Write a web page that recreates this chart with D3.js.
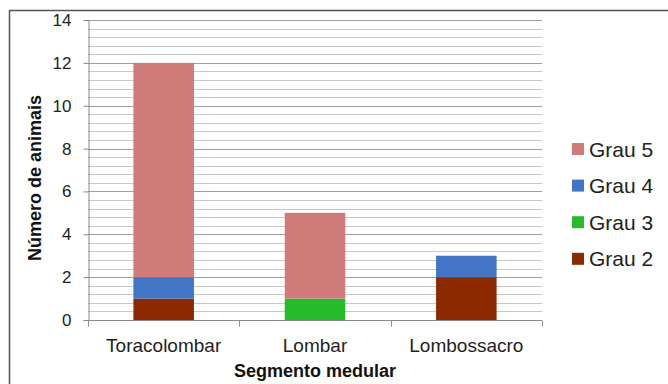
<!DOCTYPE html>
<html>
<head>
<meta charset="utf-8">
<script src="https://cdn.jsdelivr.net/npm/d3@7"></script>
<style>
  html, body { margin: 0; padding: 0; background: #fff; }
  svg { display: block; font-family: "Liberation Sans", Arial, sans-serif; }
</style>
</head>
<body>
<svg id="chart" width="668" height="384"></svg>
<script>
// Spinal segments and number of animals per injury grade
const categories = ["Toracolombar", "Lombar", "Lombossacro"];
const grades = ["Grau 2", "Grau 3", "Grau 4", "Grau 5"];
const grau2 = [1, 0, 2];
const grau3 = [0, 1, 0];
const grau4 = [1, 0, 1];
const grau5 = [10, 4, 0];
const yTicks = [0, 2, 4, 6, 8, 10, 12, 14];
const colors = { "Grau 2": "#8c2a02", "Grau 3": "#25bb2a", "Grau 4": "#4275c6", "Grau 5": "#cf7b79" };

const rows = categories.map((c, i) => ({
  cat: c, "Grau 2": grau2[i], "Grau 3": grau3[i], "Grau 4": grau4[i], "Grau 5": grau5[i]
}));

const svg = d3.select("#chart");
const plot = { left: 88, right: 542, top: 20, bottom: 320 };

const x = d3.scaleBand().domain(categories).range([plot.left, plot.right]).padding(0);
const y = d3.scaleLinear().domain([0, 14]).range([plot.bottom, plot.top]);

// outer frame (top and left edges)
svg.append("path")
  .attr("d", `M9.5,384 V10.5 H668`)
  .attr("fill", "none").attr("stroke", "#555").attr("stroke-width", 1.5);

// minor grid every 0.4, major every 2
const minor = d3.range(0, 14.001, 0.4).filter(v => Math.abs(v / 2 - Math.round(v / 2)) > 1e-6);
svg.append("g").selectAll("line").data(minor).join("line")
  .attr("x1", plot.left).attr("x2", plot.right)
  .attr("y1", d => Math.round(y(d)) + 0.5).attr("y2", d => Math.round(y(d)) + 0.5)
  .attr("stroke", "#c8c8c8").attr("stroke-width", 1);
svg.append("g").selectAll("line").data(yTicks.filter(v => v > 0)).join("line")
  .attr("x1", plot.left).attr("x2", plot.right)
  .attr("y1", d => Math.round(y(d)) + 0.5).attr("y2", d => Math.round(y(d)) + 0.5)
  .attr("stroke", "#9e9e9e").attr("stroke-width", 1);

// stacked bars
const stack = d3.stack().keys(grades)(rows);
const barW = x.bandwidth() * 0.4;
svg.append("g").selectAll("g").data(stack).join("g")
  .attr("fill", d => colors[d.key])
  .selectAll("rect").data(d => d.filter(s => s[1] > s[0])).join("rect")
  .attr("x", d => x(d.data.cat) + (x.bandwidth() - barW) / 2)
  .attr("width", barW)
  .attr("y", d => y(d[1]))
  .attr("height", d => y(d[0]) - y(d[1]));

// y axis
const yAxis = svg.append("g").attr("transform", `translate(${plot.left + 0.5},0)`)
  .call(d3.axisLeft(y).tickValues(yTicks).tickSize(5).tickPadding(12));
yAxis.select(".domain").attr("stroke", "#8a8a8a");
yAxis.selectAll(".tick line").attr("stroke", "#8a8a8a");
yAxis.selectAll(".tick text").attr("font-size", 17).attr("fill", "#222")
  .attr("font-family", "'Liberation Sans', Arial, sans-serif");

// x axis with ticks on band boundaries
const xAxis = svg.append("g").attr("transform", `translate(0,${plot.bottom + 0.5})`);
xAxis.append("line").attr("x1", plot.left).attr("x2", plot.right)
  .attr("stroke", "#8a8a8a");
const bounds = categories.map(c => x(c)).concat([x(categories[categories.length - 1]) + x.bandwidth()]);
xAxis.selectAll("line.tk").data(bounds).join("line").attr("class", "tk")
  .attr("x1", d => Math.round(d) + 0.5).attr("x2", d => Math.round(d) + 0.5)
  .attr("y1", 0).attr("y2", 6).attr("stroke", "#8a8a8a");
xAxis.selectAll("text").data(categories).join("text")
  .attr("x", d => x(d) + x.bandwidth() / 2).attr("y", 31)
  .attr("text-anchor", "middle").attr("font-size", 19).attr("fill", "#222")
  .text(d => d);

// axis titles
svg.append("text").attr("x", 315).attr("y", 377)
  .attr("text-anchor", "middle").attr("font-size", 18).attr("font-weight", "bold")
  .attr("fill", "#111").text("Segmento medular");
svg.append("text").attr("transform", "translate(41,178) rotate(-90)")
  .attr("text-anchor", "middle").attr("font-size", 18).attr("font-weight", "bold")
  .attr("fill", "#111").text("Número de animais");

// legend (highest grade on top)
const legend = svg.append("g").selectAll("g").data(grades.slice().reverse()).join("g")
  .attr("transform", (d, i) => `translate(572,${149 + i * 36.6})`);
legend.append("rect").attr("x", 0).attr("y", -6).attr("width", 12).attr("height", 12)
  .attr("fill", d => colors[d]);
legend.append("text").attr("x", 17).attr("y", 7.5).attr("font-size", 21).attr("fill", "#222")
  .text(d => d);
</script>
</body>
</html>
